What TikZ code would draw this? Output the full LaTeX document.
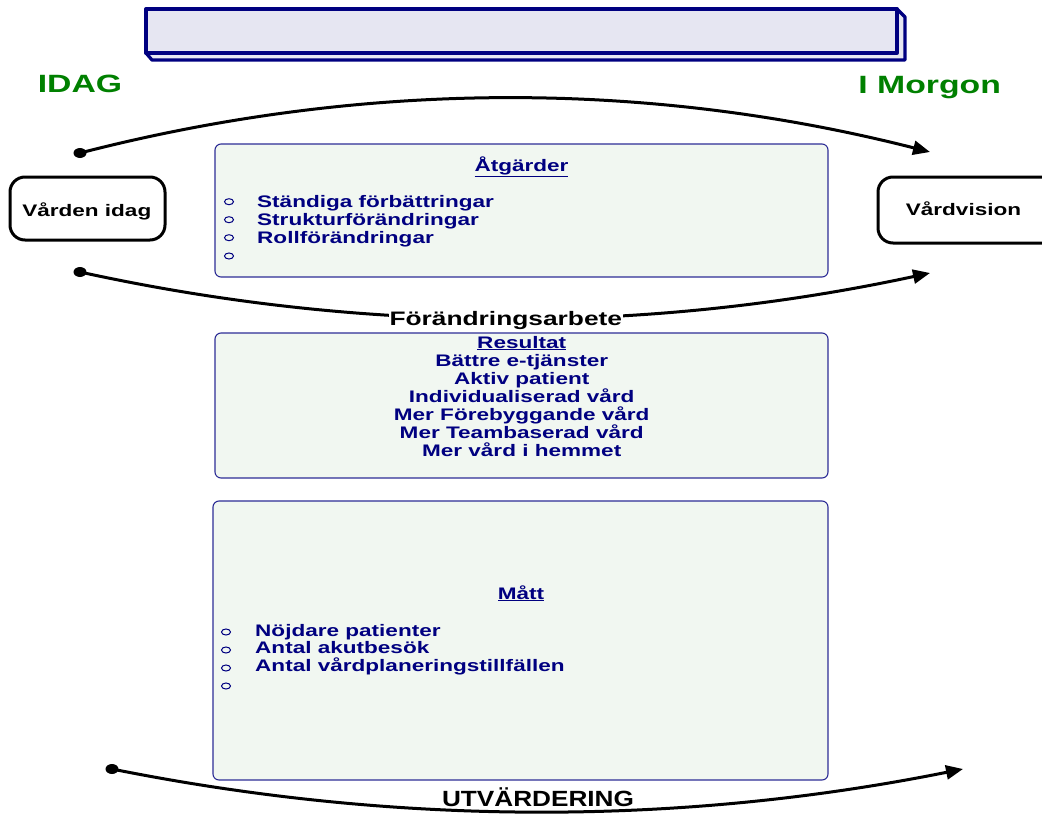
\documentclass[tikz,border=0pt]{standalone}
\usepackage{fontspec}
\setmainfont{Liberation Sans}[FakeStretch=1.35]
\newfontfamily\narrowfont{Liberation Sans}[FakeStretch=1.19]
\usetikzlibrary{arrows.meta,shapes.geometric}

\definecolor{navy}{RGB}{0,0,128}
\definecolor{bannerfill}{RGB}{230,230,242}
\definecolor{panelfill}{RGB}{241,247,241}
\definecolor{panelline}{RGB}{45,45,150}
\definecolor{leafgreen}{RGB}{0,128,0}

\tikzset{
  txt/.style={font=\fontsize{16.7}{18}\selectfont\bfseries, inner sep=0pt, anchor=base},
  item/.style={txt, text=navy, anchor=base west},
  heading/.style={txt, text=navy},
  bigword/.style={font=\fontsize{25}{28}\selectfont\bfseries, text=leafgreen, inner sep=0pt, anchor=base},
  endbox/.style={draw=black, line width=3pt, rounded corners=15pt, fill=white},
  panel/.style={draw=panelline, line width=1.1pt, rounded corners=6pt, fill=panelfill},
  bulletmark/.style={ellipse, draw=navy, line width=1pt, minimum width=9pt, minimum height=6pt, inner sep=0pt},
  dotmark/.style={ellipse, fill=black, minimum width=13pt, minimum height=10pt, inner sep=0pt},
  flow/.style={line width=3pt, line cap=round, -{Triangle[length=17pt,width=14pt]}},
  banner/.style={draw=navy, line width=3.3pt, line join=round, fill=bannerfill}
}

\begin{document}
\begin{tikzpicture}[x=1pt,y=-1pt]
\useasboundingbox (0,0) rectangle (1042,817);
\clip (0,0) rectangle (1042,817);

% title banner with its 3-D edge
\filldraw[banner] (146,53) -- (152,60) -- (905,60) -- (905,17) -- (897,9) -- (897,53) -- cycle;
\node[banner, minimum width=751pt, minimum height=44pt, inner sep=0pt] (title) at (521.5,31) {};

% headings left and right
\node[bigword] (idag) at (80,92.7) {IDAG};
\node[bigword] (morgon) at (929.7,93.3) {I Morgon};

% start and goal boxes
\node[endbox, minimum width=155pt, minimum height=63pt] (vidag) at (87.5,208.5) {};
\node[txt] at (86.8,216.7) {Vården idag};
\node[endbox, minimum width=180pt, minimum height=66pt] (vision) at (968,210) {};
\node[txt] at (963.5,215) {Vårdvision};

% panels
\node[panel, minimum width=613pt, minimum height=133pt] (atg) at (521.5,210.5) {};
\node[panel, minimum width=613pt, minimum height=145pt] (res) at (521.5,405.5) {};
\node[panel, minimum width=615pt, minimum height=279pt] (matt) at (520.5,640.5) {};

% Åtgärder
\node[heading] (atgh) at (521.5,171) {\underline{Åtgärder}};
\node[bulletmark] (ab1) at (229,201.7) {};
\node[bulletmark] (ab2) at (229,219.7) {};
\node[bulletmark] (ab3) at (229,237.7) {};
\node[bulletmark] (ab4) at (229,256) {};
\node[item] (a1) at (257,207) {Ständiga förbättringar};
\node[item] (a2) at (257,225) {Strukturförändringar};
\node[item] (a3) at (257,243) {Rollförändringar};

% Resultat
\node[heading] (resh) at (521.7,348) {\underline{Resultat}};
\node[heading] (r1) at (521.7,366) {Bättre e-tjänster};
\node[heading] (r2) at (521.7,384) {Aktiv patient};
\node[heading] (r3) at (521.7,402) {Individualiserad vård};
\node[heading] (r4) at (521.7,420) {Mer Förebyggande vård};
\node[heading] (r5) at (521.7,438) {Mer Teambaserad vård};
\node[heading] (r6) at (521.7,456) {Mer vård i hemmet};

% Mått
\node[heading] (matth) at (521,599) {\underline{Mått}};
\node[bulletmark] (mb1) at (226,632) {};
\node[bulletmark] (mb2) at (226,650) {};
\node[bulletmark] (mb3) at (226,668) {};
\node[bulletmark] (mb4) at (226,686) {};
\node[item] (m1) at (255,636) {Nöjdare patienter};
\node[item] (m2) at (255,653.5) {Antal akutbesök};
\node[item] (m3) at (255,671) {Antal vårdplaneringstillfällen};

% flow arcs
\node[dotmark] (s1) at (80,153) {};
\coordinate (e1) at (930,152);
\draw[flow] (s1.center) .. controls (363,80) and (647,80) .. (e1);

\node[dotmark] (s2) at (80,272) {};
\coordinate (e2) at (930,273);
\draw[flow] (s2.center) .. controls (363,334) and (647,334) .. (e2);
\node[font=\fontsize{19.5}{22}\selectfont\bfseries, fill=white, inner sep=1pt, anchor=base] (change) at (505.8,325) {Förändringsarbete};

\node[dotmark] (s3) at (112,769) {};
\coordinate (e3) at (963,769);
\draw[flow] (s3.center) .. controls (396,826) and (679,826) .. (e3);
\node[font=\fontsize{22}{24}\selectfont\bfseries\narrowfont, inner sep=0pt, anchor=base] (eval) at (538,806.7) {UTVÄRDERING};
\end{tikzpicture}
\end{document}
